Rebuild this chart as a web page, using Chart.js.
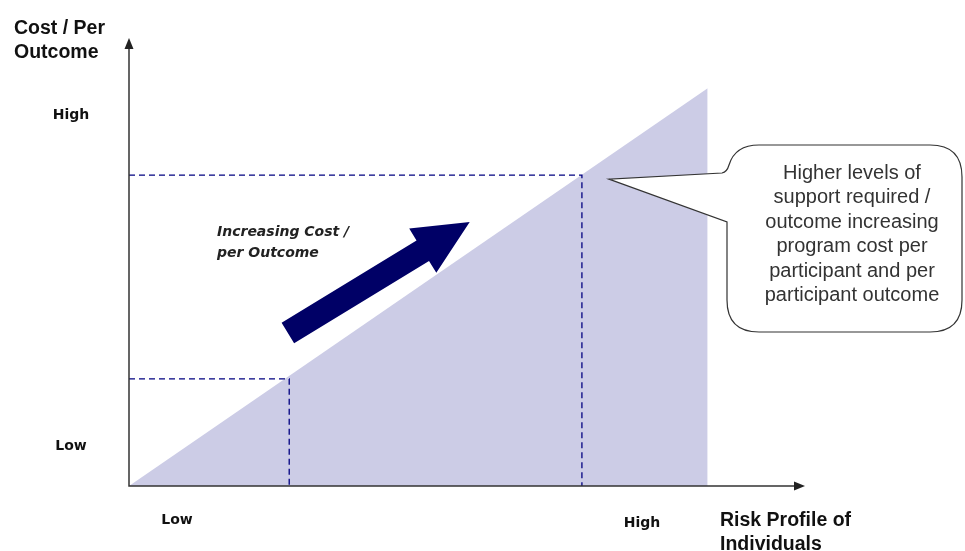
<!DOCTYPE html>
<html lang="en">
<head>
<meta charset="UTF-8">
<title>Cost per Outcome vs Risk Profile</title>
<script src="https://cdn.jsdelivr.net/npm/chart.js"></script>
<style>
    body { margin: 0; background: #fff; }
    #chart { display: block; }
</style>
</head>
<body>
<canvas id="chart" width="965" height="551"></canvas>
<script>
    // axis ticks (only two qualitative levels)
    const tickLabels = ['Low', 'High'];
    const xTickValues = [7.1, 75.9];
    const yTickValues = [9.0, 83.2];

    // the shaded ramp
    const rampX = [0, 85.6, 85.6];
    const rampY = [0, 89.2, 0];

    // dashed guides: low and high risk points on the ramp
    const guideX = [23.7, 67.0];
    const guideY = [24.0, 69.7];

    // big arrow and callout anchor
    const arrowFrom = [23.5, 34.3];
    const arrowTo = [50.4, 59.2];
    const calloutPoint = [71.0, 68.8];
    const calloutLines = ['Higher levels of', 'support required /', 'outcome increasing',
        'program cost per', 'participant and per', 'participant outcome'];

    const FONT = "'Liberation Sans', Arial, sans-serif";
    const NAVY = '#000066';

    const rampData = rampX.map((x, i) => ({ x: x, y: rampY[i] }));
    const guideSets = guideX.map((x, i) => ({
        data: [{ x: 0, y: guideY[i] }, { x: x, y: guideY[i] }, { x: x, y: 0 }],
        borderColor: '#000080',
        borderWidth: 1.3,
        borderDash: [6, 4],
        pointRadius: 0,
        showLine: true,
        fill: false,
        order: 0
    }));

    function arrowHead(ctx, x, y, dx, dy, len, half) {
        ctx.beginPath();
        ctx.moveTo(x, y);
        ctx.lineTo(x - dx * len - dy * half, y - dy * len + dx * half);
        ctx.lineTo(x - dx * len + dy * half, y - dy * len - dx * half);
        ctx.closePath();
        ctx.fill();
    }

    const decorations = {
        id: 'decorations',
        afterDatasetsDraw(chart) {
            const ctx = chart.ctx;
            const xs = chart.scales.x, ys = chart.scales.y;
            const a = chart.chartArea;
            ctx.save();

            // axes with arrows
            ctx.strokeStyle = '#333';
            ctx.fillStyle = '#222';
            ctx.lineWidth = 1.5;
            ctx.beginPath();
            ctx.moveTo(a.left, a.top + 6);
            ctx.lineTo(a.left, a.bottom);
            ctx.lineTo(a.right - 6, a.bottom);
            ctx.stroke();
            arrowHead(ctx, a.left, a.top - 2, 0, -1, 11, 4.5);
            arrowHead(ctx, a.right, a.bottom, 1, 0, 11, 4.5);

            // tick labels
            ctx.fillStyle = '#111';
            ctx.font = "bold 14px 'DejaVu Sans', sans-serif";
            ctx.textAlign = 'center';
            ctx.textBaseline = 'middle';
            tickLabels.forEach((t, i) => {
                ctx.fillText(t, a.left - 58, ys.getPixelForValue(yTickValues[i]));
                ctx.fillText(t, xs.getPixelForValue(xTickValues[i]), a.bottom + 34 + i * 3);
            });

            // axis titles
            ctx.font = 'bold 19.5px ' + FONT;
            ctx.textAlign = 'left';
            ctx.fillText('Cost / Per', 14, 29);
            ctx.fillText('Outcome', 14, 53);
            ctx.fillText('Risk Profile of', 720, 521);
            ctx.fillText('Individuals', 720, 545);

            // annotation text
            ctx.font = "italic bold 14px 'DejaVu Sans', sans-serif";
            ctx.fillStyle = '#222';
            ctx.fillText('Increasing Cost /', 217, 232);
            ctx.fillText('per Outcome', 217, 253);

            // big arrow
            const x0 = xs.getPixelForValue(arrowFrom[0]), y0 = ys.getPixelForValue(arrowFrom[1]);
            const x1 = xs.getPixelForValue(arrowTo[0]), y1 = ys.getPixelForValue(arrowTo[1]);
            const len = Math.hypot(x1 - x0, y1 - y0);
            const ux = (x1 - x0) / len, uy = (y1 - y0) / len;
            const nx = -uy, ny = ux;
            const sw = 12, hw = 26, hl = 55;
            const bx = x1 - ux * hl, by = y1 - uy * hl;
            ctx.fillStyle = NAVY;
            ctx.beginPath();
            ctx.moveTo(x0 + nx * sw, y0 + ny * sw);
            ctx.lineTo(bx + nx * sw, by + ny * sw);
            ctx.lineTo(bx + nx * hw, by + ny * hw);
            ctx.lineTo(x1, y1);
            ctx.lineTo(bx - nx * hw, by - ny * hw);
            ctx.lineTo(bx - nx * sw, by - ny * sw);
            ctx.lineTo(x0 - nx * sw, y0 - ny * sw);
            ctx.closePath();
            ctx.fill();

            // callout bubble
            const px = xs.getPixelForValue(calloutPoint[0]), py = ys.getPixelForValue(calloutPoint[1]);
            const L = 727, T = 145, R = 962, B = 332, r = 32;
            ctx.fillStyle = '#fff';
            ctx.strokeStyle = '#333';
            ctx.lineWidth = 1.2;
            ctx.beginPath();
            ctx.moveTo(L + r, T);
            ctx.lineTo(R - r, T);
            ctx.quadraticCurveTo(R, T, R, T + r);
            ctx.lineTo(R, B - r);
            ctx.quadraticCurveTo(R, B, R - r, B);
            ctx.lineTo(L + r, B);
            ctx.quadraticCurveTo(L, B, L, B - r);
            ctx.lineTo(L, 222);
            ctx.lineTo(px, py);
            ctx.lineTo(L - 5, 173);
            ctx.quadraticCurveTo(L, 172, L + 2, T + 20);
            ctx.quadraticCurveTo(L + 8, T, L + r, T);
            ctx.closePath();
            ctx.fill();
            ctx.stroke();

            ctx.fillStyle = '#333';
            ctx.font = '20px ' + FONT;
            ctx.textAlign = 'center';
            calloutLines.forEach((t, i) => ctx.fillText(t, 852, 173 + i * 24.5));

            ctx.restore();
        }
    };

    new Chart(document.getElementById('chart'), {
        type: 'scatter',
        data: {
            datasets: [{
                data: rampData,
                showLine: true,
                fill: 'origin',
                backgroundColor: '#ccccE6',
                borderWidth: 0,
                pointRadius: 0,
                order: 1
            }].concat(guideSets)
        },
        options: {
            responsive: false,
            animation: false,
            layout: { padding: { left: 129, top: 40, right: 160, bottom: 65 } },
            scales: {
                x: { type: 'linear', min: 0, max: 100, display: false },
                y: { type: 'linear', min: 0, max: 100, display: false }
            },
            plugins: { legend: { display: false }, tooltip: { enabled: false } }
        },
        plugins: [decorations]
    });
</script>
</body>
</html>
